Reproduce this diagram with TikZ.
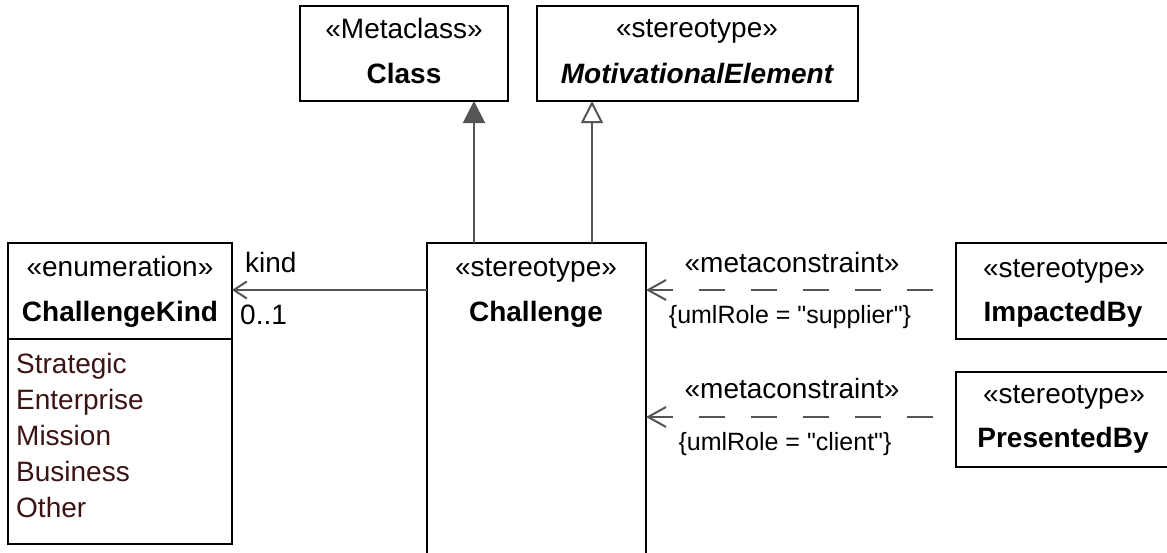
\documentclass[tikz,border=0pt]{standalone}
\usepackage{fontspec}
\setmainfont{Liberation Sans}[Ligatures=TeXOff]
\usetikzlibrary{arrows.meta,calc}
\definecolor{conn}{RGB}{85,85,85}
\definecolor{lit}{RGB}{60,20,20}
\begin{document}
\begin{tikzpicture}[x=1pt,y=-1pt,
  box/.style={draw=black,line width=2.5pt,fill=white,rectangle,inner sep=0pt,outer sep=0pt,anchor=north west},
  txt/.style={anchor=base,inner sep=0pt,font=\fontsize{28}{34}\selectfont},
  small/.style={anchor=base,inner sep=0pt,font=\fontsize{25}{30}\selectfont},
  littxt/.style={anchor=base west,inner sep=0pt,text=lit,font=\fontsize{28}{34}\selectfont},
  conline/.style={draw=conn,line width=2pt},
  gen/.style={conline,-{Triangle[length=22pt,width=22pt,fill=conn]}},
  realize/.style={conline,-{Triangle[open,length=22pt,width=22pt,fill=white]}},
  assoc/.style={conline,-{Straight Barb[length=13pt,width=17pt]}},
  depend/.style={conline,dash pattern=on 26pt off 26pt,-{Straight Barb[length=18pt,width=20pt]}}
]
\clip (0,0) rectangle (1167,552);
\fill[white] (0,0) rectangle (1167,552);

% boxes
\node[box,minimum width=208pt,minimum height=95pt] (cls) at (300,6) {};
\node[box,minimum width=321pt,minimum height=95pt] (mot) at (537,6) {};
\node[box,minimum width=219pt,minimum height=340pt] (chal) at (427,243) {};
\node[box,minimum width=224pt,minimum height=301pt] (ck) at (8,243) {};
\node[box,minimum width=214pt,minimum height=96pt] (imp) at (956,243) {};
\node[box,minimum width=214pt,minimum height=95pt] (pres) at (956,372) {};

% divider in enumeration
\coordinate (dv) at ($(ck.north west)+(0,96)$);
\draw[line width=2.5pt] (dv) -- (dv -| ck.east);

% texts
\node[txt] (clsS) at (404,38) {«Metaclass»};
\node[txt] (clsN) at (404,83) {\bfseries Class};
\node[txt] (motS) at (697,37) {«stereotype»};
\node[txt] (motN) at (697,83) {\bfseries\itshape MotivationalElement};
\node[txt] (chS) at (536,276) {«stereotype»};
\node[txt] (chN) at (536,321) {\bfseries Challenge};
\node[txt] (ckS) at (120,276) {«enumeration»};
\node[txt] (ckN) at (120,321) {\bfseries ChallengeKind};
\node[littxt] (l1) at (16,373) {Strategic};
\node[littxt] (l2) at (16,409) {Enterprise};
\node[littxt] (l3) at (16,445) {Mission};
\node[littxt] (l4) at (16,481) {Business};
\node[littxt] (l5) at (16,517) {Other};
\node[txt] (impS) at (1064,277) {«stereotype»};
\node[txt] (impN) at (1063,321) {\bfseries ImpactedBy};
\node[txt] (preS) at (1064,403) {«stereotype»};
\node[txt] (preN) at (1063,447) {\bfseries PresentedBy};

% generalizations
\coordinate (g1) at ($(chal.north west)+(47,0)$);
\draw[gen] (g1) -- (g1 |- cls.south);
\coordinate (g2) at ($(chal.north west)+(165,0)$);
\draw[realize] (g2) -- (g2 |- mot.south);

% association
\coordinate (a1) at ($(chal.north west)+(0,47)$);
\draw[assoc] (a1) -- (a1 -| ck.east);
\node[txt,anchor=base west] (kind) at (245,272) {kind};
\node[txt,anchor=base west] (mult) at (240,324) {0..1};

% dependencies
\coordinate (d1) at ($(imp.west)+(-23,-1)$);
\draw[depend] (d1) -- (d1 -| chal.east);
\node[txt] (mc1) at (792,272) {«metaconstraint»};
\node[small] (r1) at (790,323) {\{umlRole = "supplier"\}};

\coordinate (d2) at ($(pres.west)+(-23,-2.5)$);
\draw[depend] (d2) -- (d2 -| chal.east);
\node[txt] (mc2) at (792,398) {«metaconstraint»};
\node[small] (r2) at (785,450) {\{umlRole = "client"\}};
\end{tikzpicture}
\end{document}
